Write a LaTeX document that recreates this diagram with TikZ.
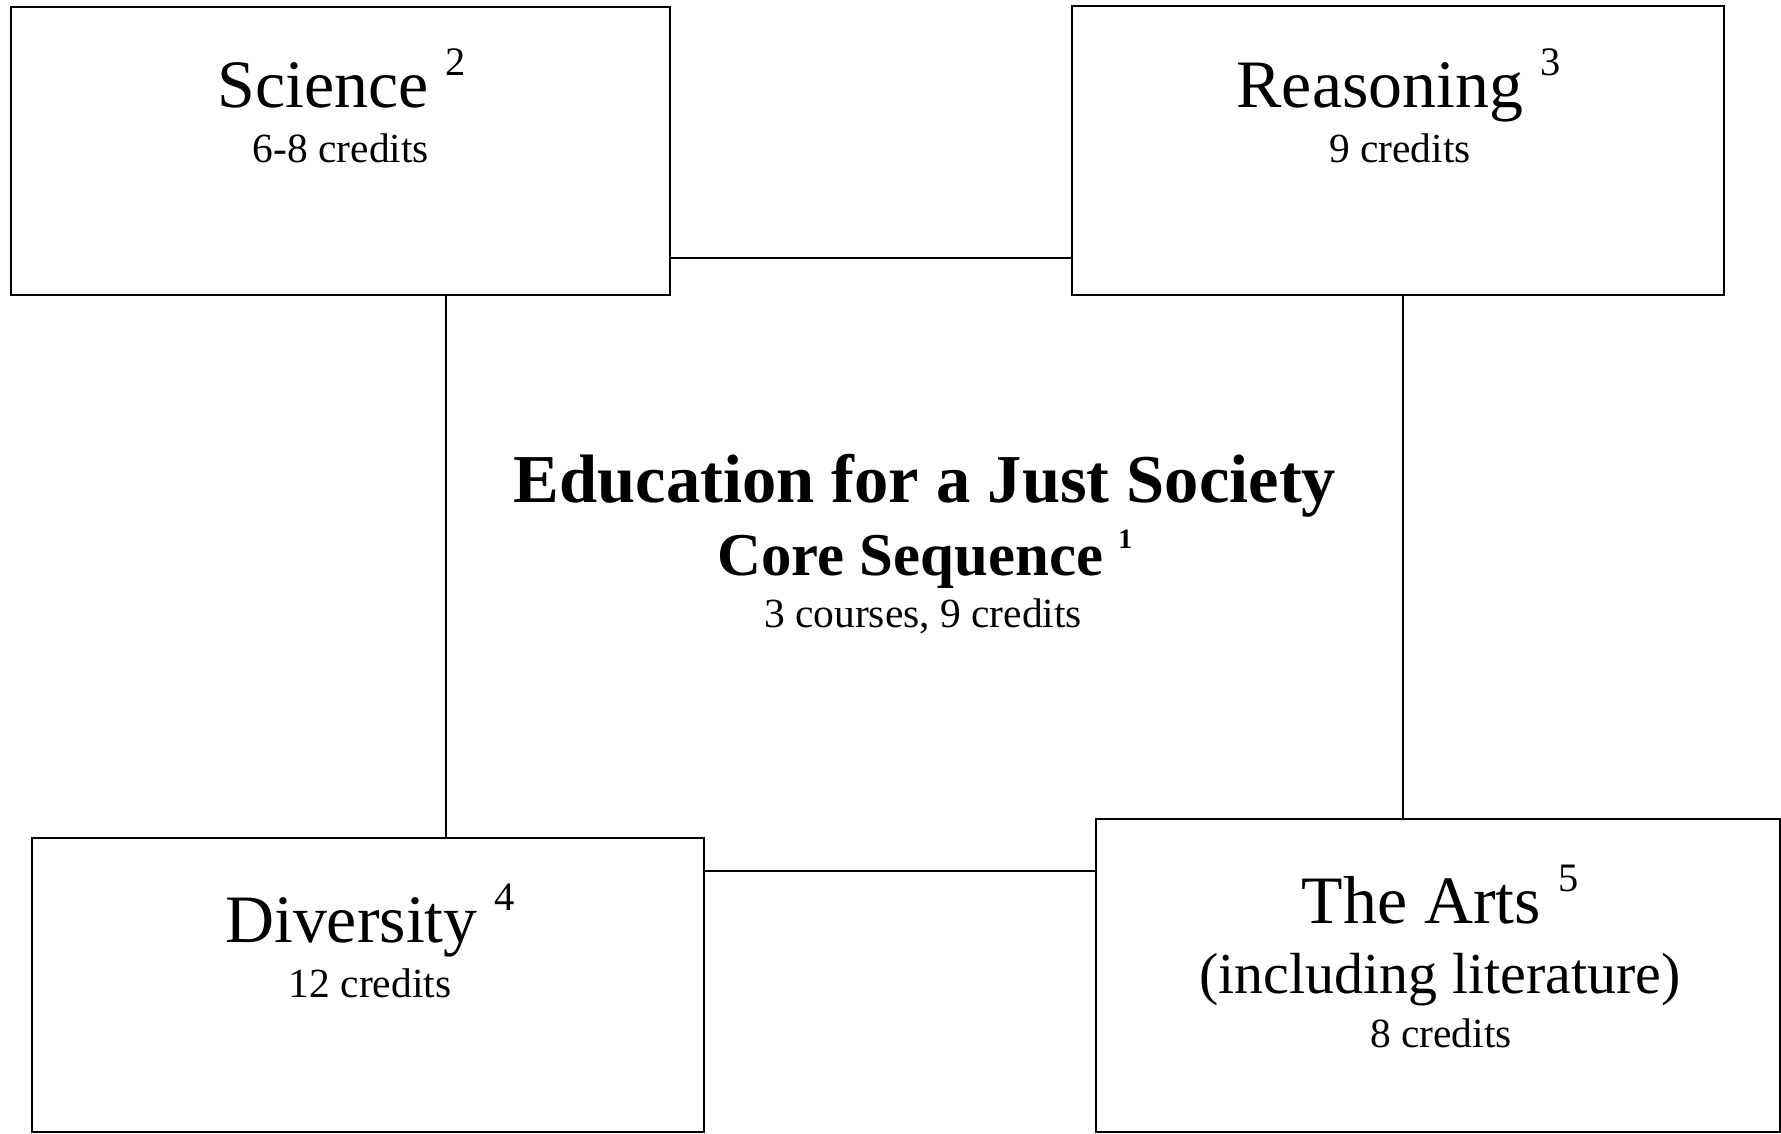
\documentclass[tikz,border=0pt]{standalone}
\usepackage{fontspec}
\setmainfont{Liberation Serif}
\usepackage{tikz}
\usetikzlibrary{positioning,calc}
\newcommand{\fnum}[1]{\raisebox{9pt}{\fontsize{11.5}{12}\selectfont #1}}

\begin{document}
\begin{tikzpicture}[
  area/.style={draw,line width=0.6pt,inner sep=0pt},
  link/.style={line width=0.6pt},
  head/.style={anchor=base,inner sep=0pt,font=\fontsize{19.3}{22}\selectfont},
  cred/.style={anchor=base,inner sep=0pt,font=\fontsize{11.8}{14}\selectfont}]
\useasboundingbox (0,0) rectangle (17.81,11.33);
\node[area,minimum width=6.59cm,minimum height=2.88cm] (sci) at (3.405,9.82) {};
\node[area,minimum width=6.52cm,minimum height=2.89cm] (rea) at (13.98,9.825) {};
\node[area,minimum width=6.72cm,minimum height=2.94cm] (div) at (3.68,1.48) {};
\node[area,minimum width=6.84cm,minimum height=3.13cm] (art) at (14.38,1.575) {};
\coordinate (lx) at (4.46,0);
\coordinate (rx) at (14.03,0);
\coordinate (ty) at (0,8.75);
\coordinate (by) at (0,2.62);
\draw[link] (sci.east |- ty) -- (rea.west |- ty);
\draw[link] (sci.south -| lx) -- (div.north -| lx);
\draw[link] (rea.south -| rx) -- (art.north -| rx);
\draw[link] (div.east |- by) -- (art.west |- by);
\node[head] (sciT) at (3.42,10.26) {Science \fnum{2}};
\node[cred] (sciC) at (3.41,9.71) {6-8 credits};
\node[head] (reaT) at (13.985,10.26) {Reasoning \fnum{3}};
\node[cred] (reaC) at (14.00,9.71) {9 credits};
\node[head,font=\fontsize{19.5}{22}\bfseries] (coreT) at (9.25,6.31) {Education for a Just Society};
\node[head,font=\fontsize{17.3}{20}\bfseries] (coreS) at (9.25,5.58) {Core Sequence \raisebox{7.5pt}{\fontsize{8}{9}\selectfont 1}};
\node[cred] (coreC) at (9.23,5.06) {3 courses, 9 credits};
\node[head] (divT) at (3.70,1.91) {Diversity \fnum{4}};
\node[cred] (divC) at (3.70,1.36) {12 credits};
\node[head] (artT) at (14.40,2.10) {The Arts \fnum{5}};
\node[head,font=\fontsize{16.5}{20}\selectfont] (artL) at (14.40,1.40) {(including literature)};
\node[cred] (artC) at (14.41,0.86) {8 credits};
\end{tikzpicture}
\end{document}
